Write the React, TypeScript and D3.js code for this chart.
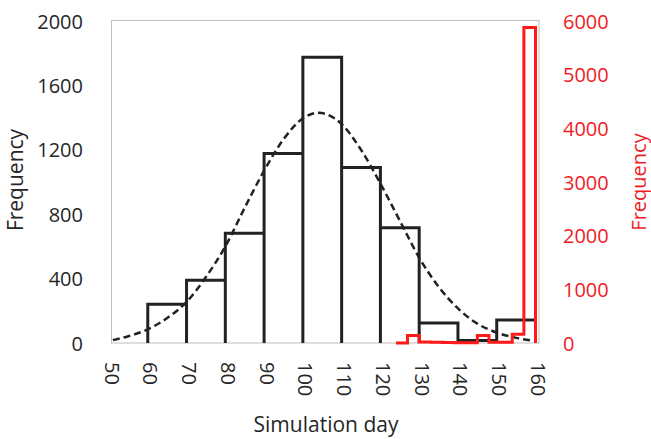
import React from "react";
import * as d3 from "d3";

// Black histogram (left axis): bins of 10 days
const binStarts = [60, 70, 80, 90, 100, 110, 120, 130, 140, 150];
const binWidth = 10;
const binCounts = [240, 390, 682, 1177, 1775, 1090, 716, 124, 15, 143];

// Red histogram (right axis): bins of 3 days
const redEdges = [124, 127, 130, 133, 136, 139, 142, 145, 148, 151, 154, 157, 160];
const redCounts = [0, 140, 18, 15, 10, 5, 5, 140, 12, 12, 165, 5880];

// Dashed fitted curve
const curveDays = [51, 55, 60, 65, 70, 75, 80, 85, 90, 95, 100, 104, 110, 115, 120, 125, 130, 135, 140, 145, 150, 155, 160];
const curveVals = [18, 42, 85, 155, 255, 410, 600, 840, 1070, 1265, 1395, 1430, 1360, 1200, 990, 760, 530, 350, 215, 120, 65, 32, 12];

const xTicks = [50, 60, 70, 80, 90, 100, 110, 120, 130, 140, 150, 160];
const yLeftTicks = [0, 400, 800, 1200, 1600, 2000];
const yRightTicks = [0, 1000, 2000, 3000, 4000, 5000, 6000];

const FONT = "'Open Sans', 'Noto Sans', sans-serif";
const BLACK = "#222222";
const RED = "#ff1a1a";
const RED_TEXT = "#ee1c25";

export default function App() {
  const x = d3.scaleLinear().domain([50, 160]).range([109, 535.5]);
  const yL = d3.scaleLinear().domain([0, 2000]).range([343, 21]);
  const yR = d3.scaleLinear().domain([0, 6000]).range([343, 21]);

  // black outlined bars (no bottom edge)
  const blackPath = binStarts
    .map((s, i) => {
      const x0 = x(s), x1 = x(s + binWidth), yt = yL(binCounts[i]), yb = yL(0);
      return `M${x0},${yb}V${yt}H${x1}V${yb}`;
    })
    .join("");

  // red step line
  let redPath = `M${x(redEdges[0])},${yR(redCounts[0])}`;
  redCounts.forEach((v, i) => {
    redPath += `V${yR(v)}H${x(redEdges[i + 1])}`;
  });
  redPath += `V${yR(0)}`;

  const curve = d3
    .line<number>()
    .x((_, i) => x(curveDays[i]))
    .y((d) => yL(d))
    .curve(d3.curveMonotoneX)(curveVals) as string;

  return (
    <svg
      width={651}
      height={439}
      style={{ position: "absolute", left: 0, top: 0, background: "#fff" }}
      fontFamily={FONT}
    >
      <rect x={111.5} y={20.5} width={427.5} height={322.5} fill="none" stroke="#bfbfbf" strokeWidth={1} />

      <path d={curve} fill="none" stroke={BLACK} strokeWidth={2.5} strokeDasharray="7,4" />
      <path d={blackPath} fill="none" stroke={BLACK} strokeWidth={3} strokeLinejoin="miter" />
      <path d={redPath} fill="none" stroke={RED} strokeWidth={3} strokeLinejoin="miter" />

      {yLeftTicks.map((t) => (
        <text key={"l" + t} x={83} y={yL(t)} textAnchor="end" dominantBaseline="central" fontSize={20} fill="#262626">
          {t}
        </text>
      ))}
      {yRightTicks.map((t) => (
        <text key={"r" + t} x={563} y={yR(t)} textAnchor="start" dominantBaseline="central" fontSize={20} fill={RED_TEXT}>
          {t}
        </text>
      ))}
      {xTicks.map((t) => (
        <text
          key={"x" + t}
          transform={`translate(${x(t) + 3},362) rotate(90)`}
          textAnchor="start"
          dominantBaseline="central"
          fontSize={20}
          fill="#262626"
        >
          {t}
        </text>
      ))}

      <text transform="translate(15,180) rotate(-90)" textAnchor="middle" dominantBaseline="central" fontSize={21} fill="#262626">
        Frequency
      </text>
      <text transform="translate(638,182) rotate(-90)" textAnchor="middle" dominantBaseline="central" fontSize={20} fill={RED_TEXT}>
        Frequency
      </text>
      <text x={326} y={432} textAnchor="middle" fontSize={21} fill="#262626">
        Simulation day
      </text>
    </svg>
  );
}
